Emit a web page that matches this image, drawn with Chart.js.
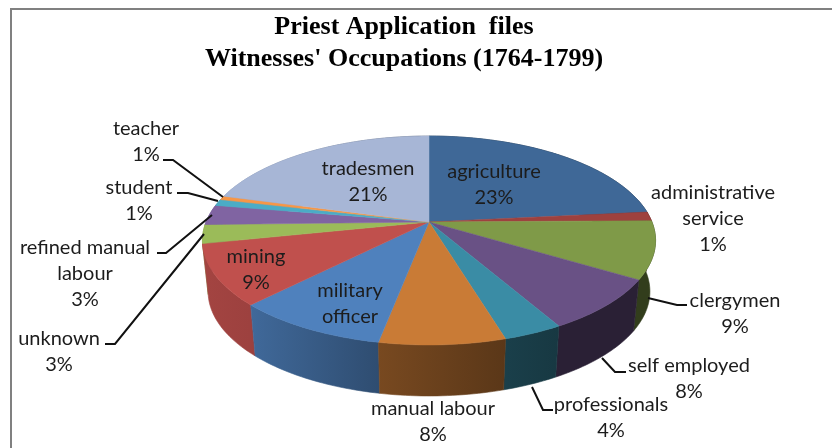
<!DOCTYPE html>
<html><head><meta charset="utf-8">
<style>html,body{margin:0;padding:0;background:#fff}canvas{display:block}</style>
<script src="https://cdn.jsdelivr.net/npm/chart.js@4"></script>
</head><body><canvas id="c" width="832" height="448"></canvas>
<script>
const categories = ["agriculture","administrative service","clergymen","self employed","professionals","manual labour","military officer","mining","unknown","refined manual labour","student","teacher","tradesmen"];
const shares = [23.4,1.4,8.9,8.1,3.6,7.6,9.3,9.4,2.9,3.1,1.0,0.6,20.7];
const sliceColors = ["#3F6897","#9E413E","#7F9A48","#695185","#3A8CA5","#C97B36","#4F81BD","#C0504D","#9BBB59","#8064A2","#4BACC6","#F79646","#A7B6D6"];
const titleLines = ["Priest Application  files","Witnesses' Occupations (1764-1799)"];

// Label layout: centre x, first-line y, lines, whether a percent line is shown
const labelLayout = [
 {x:494,y:171,lines:["agriculture"],pct:true},
 {x:713,y:192,lines:["administrative","service"],pct:true},
 {x:735,y:300,lines:["clergymen"],pct:true},
 {x:689,y:365,lines:["self employed"],pct:true},
 {x:611,y:404,lines:["professionals"],pct:true},
 {x:433,y:408,lines:["manual labour"],pct:true},
 {x:350,y:290,lines:["military","officer"],pct:false},
 {x:256,y:256,lines:["mining"],pct:true},
 {x:59,y:338,lines:["unknown"],pct:true},
 {x:85,y:247,lines:["refined manual","labour"],pct:true},
 {x:139,y:187,lines:["student"],pct:true},
 {x:146,y:128,lines:["teacher"],pct:true},
 {x:368,y:168,lines:["tradesmen"],pct:true}
];
const leaders = [
 [[687,305],[677,305],[648,298]],
 [[626,372],[615,372],[602,358]],
 [[553,410],[543,410],[532,387]],
 [[105,344],[115,344],[204,234]],
 [[157,253],[166,253],[212,215]],
 [[177,193],[188,193],[218,201]],
 [[163,160],[173,160],[223,197]]
];

// Perspective projection of the pie disc onto the page
const P = {cx:429, apexY:222, R:223, a:61.9, c:-0.177, depth:51, shrink:0.975};
function proj(t){
  const u=Math.cos(t), v=Math.sin(t), w=1+P.c*v;
  return [P.cx+P.R*u/w, (P.a*v+P.apexY)/w];
}
function lower(p){ return [P.cx+(p[0]-P.cx)*P.shrink, p[1]+P.depth]; }
function rim(a0,a1){
  const n=Math.max(2,Math.ceil((a1-a0)/0.02)), out=[];
  for(let i=0;i<=n;i++) out.push(proj(a0+(a1-a0)*i/n));
  return out;
}
function shade(hex,f){
  const n=parseInt(hex.slice(1),16);
  return `rgb(${((n>>16)&255)*f|0},${((n>>8)&255)*f|0},${(n&255)*f|0})`;
}
const sideStops=[[205,.85],[250,.82],[378,.6],[507,.45],[560,.4],[650,.4]];

const pie3d = {
  id:'pie3d',
  beforeDatasetDraw(chart,args){
    const ctx=chart.ctx, arcs=chart.getDatasetMeta(args.index).data, cols=chart.data.datasets[0].backgroundColor;
    const order=arcs.map((a,i)=>i).sort((p,q)=>
      Math.sin((arcs[p].startAngle+arcs[p].endAngle)/2)-Math.sin((arcs[q].startAngle+arcs[q].endAngle)/2));
    ctx.save();
    // side walls, back to front
    order.forEach(i=>{
      const r=rim(arcs[i].startAngle,arcs[i].endAngle), g=ctx.createLinearGradient(205,0,650,0);
      sideStops.forEach(s=>g.addColorStop((s[0]-205)/445,shade(cols[i],s[1])));
      ctx.beginPath();
      r.forEach((p,k)=>k?ctx.lineTo(p[0],p[1]):ctx.moveTo(p[0],p[1]));
      r.slice().reverse().forEach(p=>{const q=lower(p);ctx.lineTo(q[0],q[1]);});
      ctx.closePath();
      ctx.fillStyle=g; ctx.strokeStyle=g; ctx.lineWidth=.6; ctx.fill(); ctx.stroke();
    });
    // top faces
    arcs.forEach((arc,i)=>{
      const r=rim(arc.startAngle,arc.endAngle);
      ctx.beginPath(); ctx.moveTo(P.cx,P.apexY);
      r.forEach(p=>ctx.lineTo(p[0],p[1]));
      ctx.closePath();
      ctx.fillStyle=cols[i]; ctx.strokeStyle=cols[i]; ctx.lineWidth=.5; ctx.fill(); ctx.stroke();
    });
    ctx.restore();
    return false;
  },
  afterDraw(chart){
    const ctx=chart.ctx, data=chart.data.datasets[0].data;
    ctx.save();
    ctx.strokeStyle='#808080'; ctx.lineWidth=2;
    ctx.beginPath(); ctx.moveTo(11,448); ctx.lineTo(11,9); ctx.lineTo(832,9); ctx.stroke();
    ctx.strokeStyle='#111'; ctx.lineWidth=2;
    leaders.forEach(l=>{ctx.beginPath();l.forEach((p,k)=>k?ctx.lineTo(p[0],p[1]):ctx.moveTo(p[0],p[1]));ctx.stroke();});
    ctx.fillStyle='#1c1c1c'; ctx.font='20px Lato'; ctx.textAlign='center'; ctx.textBaseline='middle';
    labelLayout.forEach((L,i)=>{
      const lines=L.lines.concat(L.pct?[Math.round(data[i])+'%']:[]);
      lines.forEach((t,k)=>ctx.fillText(t,L.x,L.y+1+k*26));
    });
    ctx.restore();
  }
};

new Chart(document.getElementById('c'),{
  type:'pie',
  data:{labels:categories,datasets:[{data:shares,backgroundColor:sliceColors,borderWidth:0}]},
  options:{
    responsive:false,animation:false,
    layout:{padding:{right:24,top:5}},
    plugins:{
      legend:{display:false},tooltip:{enabled:false},
      title:{display:true,text:titleLines,color:'#000',font:{family:'"Liberation Serif"',size:26,weight:'bold',lineHeight:1.24},padding:{top:6,bottom:0}}
    }
  },
  plugins:[pie3d]
});
</script></body></html>
